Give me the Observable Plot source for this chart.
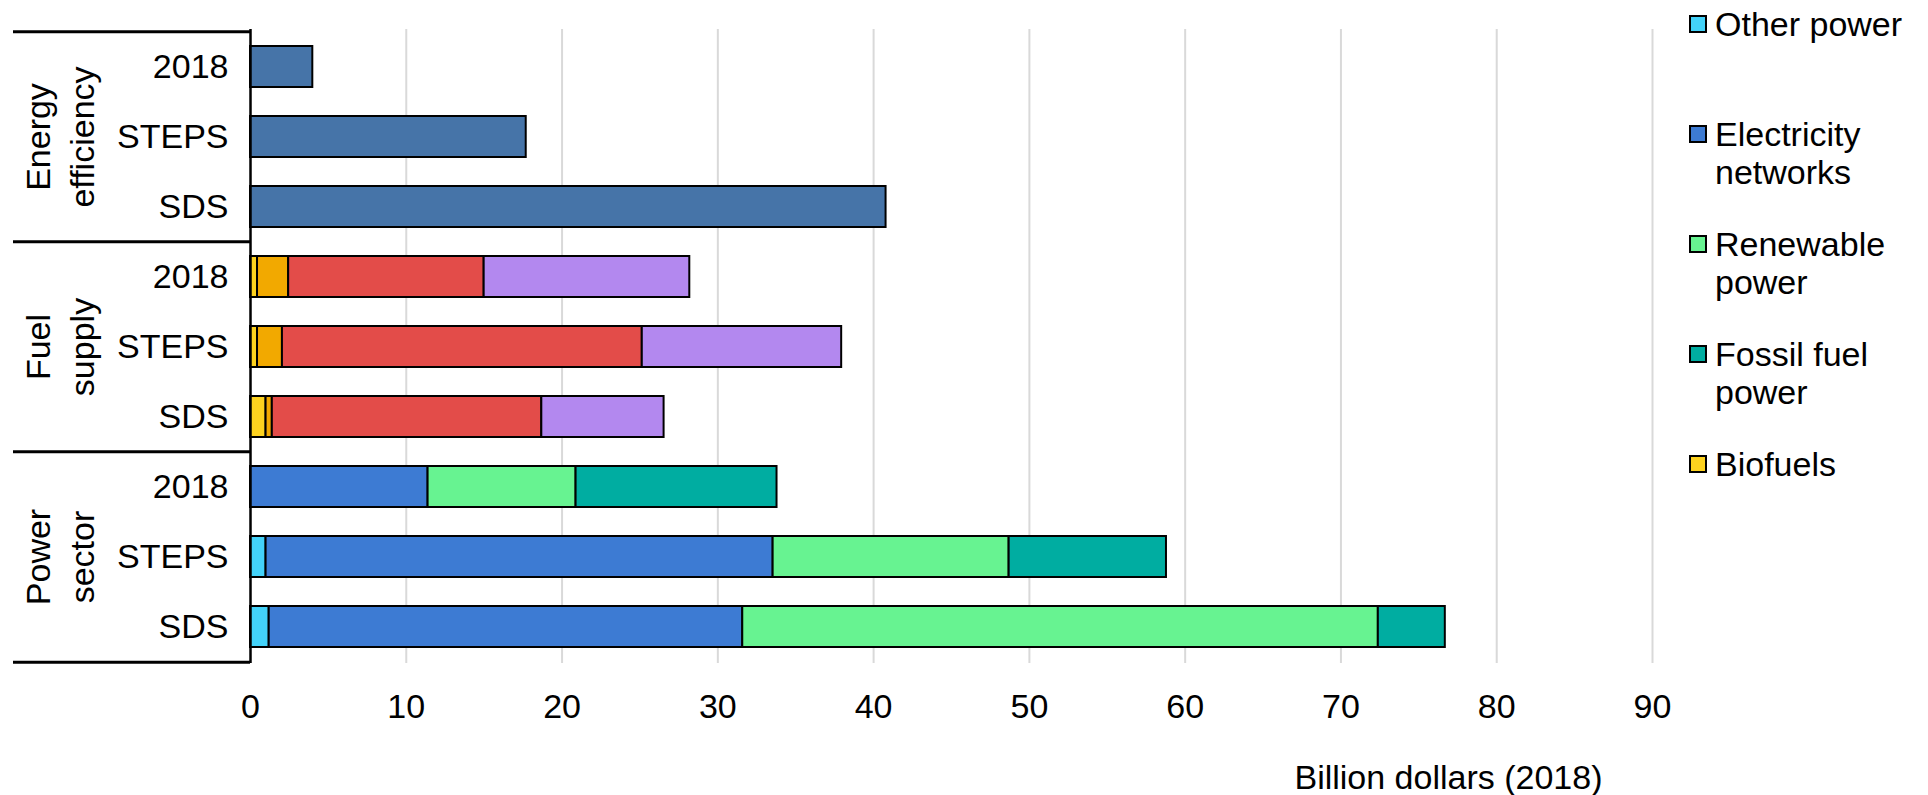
<!DOCTYPE html>
<html>
<head>
<meta charset="utf-8">
<script src="https://cdn.jsdelivr.net/npm/d3@7"></script>
<script src="https://cdn.jsdelivr.net/npm/@observablehq/plot@0.6"></script>
<style>
  body { margin: 0; background: #fff; }
  #chart { position: relative; width: 1928px; height: 795px; font-family: "Liberation Sans", Arial, sans-serif; color: #000; }
  #chart svg { position: absolute; left: 0; top: 0; }
  .legend { position: absolute; left: 1689px; top: 5px; }
  .item { position: relative; height: 110px; }
  .sw { position: absolute; left: 0; top: 10px; width: 18px; height: 18px; box-sizing: border-box; border: 2px solid #000; }
  .lab { position: absolute; left: 26px; top: 0; font-size: 34px; line-height: 38px; white-space: pre; }
</style>
</head>
<body>
<div id="chart"></div>
<script>
// Sectors (row groups) and scenarios (rows inside each group)
const groups = ["Energy efficiency", "Fuel supply", "Power sector"];
const groupLabels = ["Energy\nefficiency", "Fuel\nsupply", "Power\nsector"];
const scenarios = ["2018", "STEPS", "SDS"];

// Investment, billion dollars (2018), per scenario [2018, STEPS, SDS]
const efficiency  = [4.0, 17.7, 40.8];
const biofuels    = [0.45, 0.45, 1.0];
const coal        = [2.0, 1.6, 0.4];
const oil         = [12.55, 23.1, 17.3];
const gas         = [13.2, 12.8, 7.85];
const otherPower  = [0, 1.0, 1.2];
const networks    = [11.4, 32.55, 30.4];
const renewables  = [9.5, 15.15, 40.8];
const fossilPower = [12.9, 10.1, 4.3];

// Series in stacking order, with their fills
const seriesNames = ["Energy efficiency", "Biofuels", "Coal", "Oil", "Natural gas",
                     "Other power", "Electricity networks", "Renewable power", "Fossil fuel power"];
const seriesColors = ["#4674a8", "#fdd21f", "#f2a900", "#e34c49", "#b388ef",
                      "#43d2f9", "#3d7bd3", "#67f391", "#00ada1"];

// Legend entries
const legendNames = ["Other power", "Electricity\nnetworks", "Renewable\npower", "Fossil fuel\npower", "Biofuels"];
const legendSeries = ["Other power", "Electricity networks", "Renewable power", "Fossil fuel power", "Biofuels"];

const xTicks = [0, 10, 20, 30, 40, 50, 60, 70, 80, 90];
const xLabel = "Billion dollars (2018)";

// Long table: one row per (group|scenario, series)
const rows = groups.flatMap(g => scenarios.map(s => g + "|" + s));
const table = [];
function add(group, series, values) {
  scenarios.forEach((s, i) => {
    if (values[i] > 0) table.push({row: group + "|" + s, series, value: values[i]});
  });
}
add("Energy efficiency", "Energy efficiency", efficiency);
add("Fuel supply", "Biofuels", biofuels);
add("Fuel supply", "Coal", coal);
add("Fuel supply", "Oil", oil);
add("Fuel supply", "Natural gas", gas);
add("Power sector", "Other power", otherPower);
add("Power sector", "Electricity networks", networks);
add("Power sector", "Renewable power", renewables);
add("Power sector", "Fossil fuel power", fossilPower);

const W = 1928, H = 795, mT = 29, mB = 132, mL = 250, mR = 276;
const step = (H - mT - mB) / rows.length;
const font = "'Liberation Sans', Arial, sans-serif";

const chart = Plot.plot({
  width: W,
  height: H,
  marginTop: mT,
  marginBottom: mB,
  marginLeft: mL,
  marginRight: mR,
  style: {fontFamily: font, color: "#000", background: "transparent", overflow: "visible"},
  x: {domain: [0, 90]},
  y: {domain: rows, paddingInner: 0.416, paddingOuter: 0.208},
  color: {domain: seriesNames, range: seriesColors},
  marks: [
    Plot.ruleX(xTicks.filter(t => t > 0), {stroke: "#d9d9d9", strokeWidth: 2}),
    Plot.barX(table, Plot.stackX({
      x: "value", y: "row", fill: "series", order: seriesNames,
      stroke: "#000", strokeWidth: 2
    })),
    Plot.ruleX([0], {stroke: "#000", strokeWidth: 2.5}),
    Plot.axisX({ticks: xTicks, tickSize: 0, tickPadding: 30, fontSize: 34, label: null}),
    Plot.axisY({tickSize: 0, tickPadding: 22, fontSize: 34, label: null, tickFormat: d => d.split("|")[1]}),
    // rotated sector names
    Plot.text(groups, {
      y: g => g + "|STEPS", text: (g, i) => groupLabels[i],
      frameAnchor: "left", dx: -193, rotate: -90, fontSize: 34, lineHeight: 1.3,
      textAnchor: "middle", lineAnchor: "middle", fill: "#000"
    }),
    // separators between sectors in the label column
    Plot.ruleY(groups, {y: g => g + "|2018", x1: 0, x2: 0, insetLeft: -237, dy: -step / 2, stroke: "#000", strokeWidth: 3}),
    Plot.ruleY(groups.slice(-1), {y: g => g + "|SDS", x1: 0, x2: 0, insetLeft: -237, dy: step / 2, stroke: "#000", strokeWidth: 3}),
    Plot.text([xLabel], {
      text: d => d, frameAnchor: "bottom-right", textAnchor: "end", lineAnchor: "middle",
      dx: -50, dy: 115, fontSize: 34, fill: "#000"
    })
  ]
});

const root = document.getElementById("chart");
root.appendChild(chart);

// Legend
const legend = document.createElement("div");
legend.className = "legend";
legendSeries.forEach((s, i) => {
  const item = document.createElement("div");
  item.className = "item";
  const sw = document.createElement("div");
  sw.className = "sw";
  sw.style.background = seriesColors[seriesNames.indexOf(s)];
  const lab = document.createElement("div");
  lab.className = "lab";
  lab.textContent = legendNames[i];
  item.appendChild(sw);
  item.appendChild(lab);
  legend.appendChild(item);
});
root.appendChild(legend);
</script>
</body>
</html>
